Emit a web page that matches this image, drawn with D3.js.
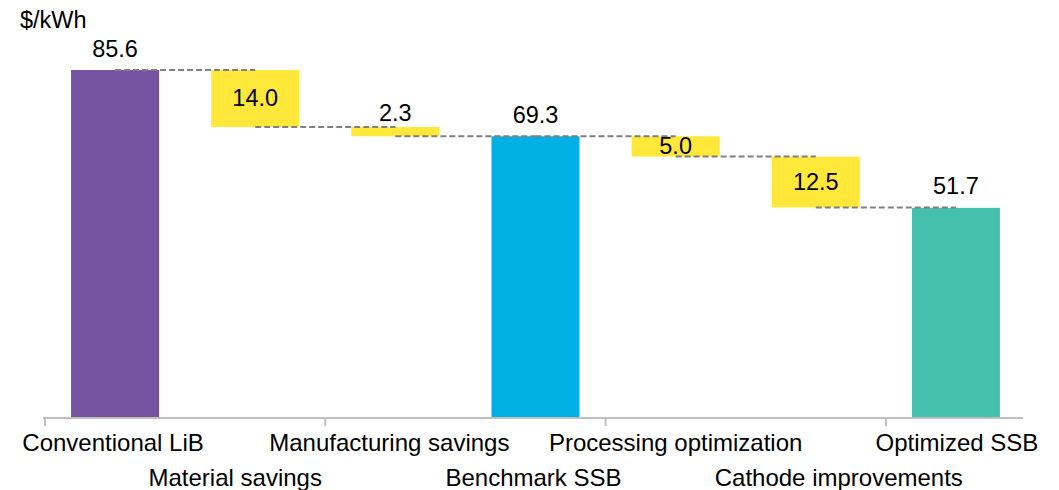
<!DOCTYPE html>
<html>
<head>
<meta charset="utf-8">
<script src="https://cdn.jsdelivr.net/npm/d3@7"></script>
<style>
  html, body { margin: 0; padding: 0; background: #fff; }
  svg { display: block; }
  text { font-family: "Liberation Sans", Arial, sans-serif; fill: #000; }
</style>
</head>
<body>
<svg id="chart" width="1059" height="490"></svg>
<script>
// ---- Data ----
const categories = ["Conventional LiB", "Material savings", "Manufacturing savings", "Benchmark SSB", "Processing optimization", "Cathode improvements", "Optimized SSB"];
const values = [85.6, 14.0, 2.3, 69.3, 5.0, 12.5, 51.7];
const kinds = ["total", "decrease", "decrease", "total", "decrease", "decrease", "total"];
const colors = ["#7653A1", "#FFE83A", "#FFE83A", "#00B0E5", "#FFE83A", "#FFE83A", "#45BFAE"];
const unitLabel = "$/kWh";
const yMax = 100;

// ---- Layout ----
const svg = d3.select("#chart");
const baseY = 418, topY = 11.5;
const x = d3.scaleBand().domain(categories).range([45, 1026]).paddingInner(0.372).paddingOuter(0.186);
const y = d3.scaleLinear().domain([0, yMax]).range([baseY, topY]);
// horizontal nudges of category labels (mimic the original's label placement)
const labelNudge = [-2, -20, -6, -2, 0, 23, 1];

// compute waterfall segments
let running = 0;
const segs = categories.map((c, i) => {
  let y0, y1;
  if (kinds[i] === "total") { y0 = 0; y1 = values[i]; running = values[i]; }
  else { y1 = running; y0 = running - values[i]; running = y0; }
  return { cat: c, v: values[i], kind: kinds[i], y0, y1, end: kinds[i] === "total" ? y1 : y0, color: colors[i] };
});

// bars
svg.append("g").selectAll("rect").data(segs).join("rect")
  .attr("x", d => x(d.cat))
  .attr("width", x.bandwidth())
  .attr("y", d => y(d.y1))
  .attr("height", d => y(d.y0) - y(d.y1))
  .attr("fill", d => d.color);

// connectors
const cx = c => x(c) + x.bandwidth() / 2;
svg.append("g").selectAll("line").data(segs.slice(0, -1)).join("line")
  .attr("x1", (d) => cx(d.cat))
  .attr("x2", (d, i) => cx(categories[i + 1]))
  .attr("y1", d => y(d.end))
  .attr("y2", d => y(d.end))
  .attr("stroke", "#808080")
  .attr("stroke-width", 2)
  .attr("stroke-dasharray", "6,3");

// axis
const axisG = svg.append("g");
axisG.append("line").attr("x1", 43).attr("x2", 1023).attr("y1", baseY).attr("y2", baseY)
  .attr("stroke", "#BFBFBF").attr("stroke-width", 2);
const tickPos = categories.filter((c, i) => i % 2 === 0).map(c => x(c) - x.step() * x.paddingInner() / 2);
axisG.selectAll("line.tick").data(tickPos).join("line")
  .attr("class", "tick")
  .attr("x1", d => d).attr("x2", d => d)
  .attr("y1", baseY).attr("y2", baseY + 8)
  .attr("stroke", "#BFBFBF").attr("stroke-width", 2);

// category labels (two rows)
svg.append("g").selectAll("text").data(categories).join("text")
  .attr("x", (d, i) => cx(d) + labelNudge[i])
  .attr("y", (d, i) => i % 2 === 0 ? 451 : 486)
  .attr("text-anchor", "middle")
  .style("font-size", "24px")
  .text(d => d);

// value labels
svg.append("g").selectAll("text").data(segs).join("text")
  .attr("x", d => cx(d.cat))
  .attr("y", d => {
    const h = y(d.y0) - y(d.y1);
    if (d.kind === "total") return y(d.y1) - 13.5;
    if (h < 15) return y(d.y1) - 6;
    return (y(d.y0) + y(d.y1)) / 2 + 8;
  })
  .attr("text-anchor", "middle")
  .style("font-size", "23.5px")
  .text(d => d.v.toFixed(1));

// unit label
svg.append("text").attr("x", 20).attr("y", 28).style("font-size", "23.5px").text(unitLabel);
</script>
</body>
</html>
